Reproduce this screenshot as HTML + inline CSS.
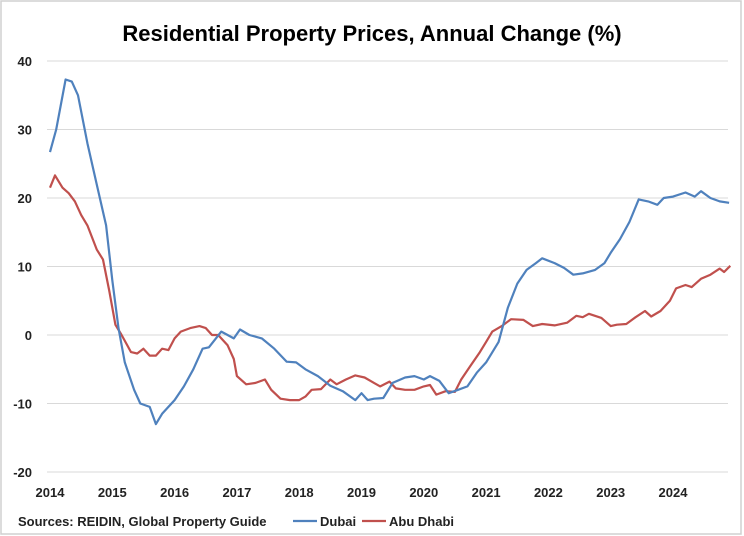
<!DOCTYPE html>
<html><head><meta charset="utf-8"><style>
body{margin:0;background:#fff;font-family:"Liberation Sans",sans-serif}
#wrap{position:relative;width:744px;height:536px;overflow:hidden}
</style></head><body>
<div id="wrap">
<svg id="chart" width="744" height="536"></svg>
</div>
<script>
const yTicks=[40,30,20,10,0,-10,-20];
const xTicks=[2014,2015,2016,2017,2018,2019,2020,2021,2022,2023,2024];
const dubaiT=[2014.0,2014.1,2014.25,2014.35,2014.45,2014.6,2014.75,2014.9,2015.0,2015.1,2015.2,2015.35,2015.45,2015.6,2015.7,2015.8,2015.9,2016.0,2016.15,2016.3,2016.45,2016.55,2016.75,2016.85,2016.95,2017.05,2017.2,2017.4,2017.6,2017.8,2017.95,2018.1,2018.3,2018.5,2018.7,2018.9,2019.0,2019.1,2019.2,2019.35,2019.5,2019.7,2019.85,2020.0,2020.1,2020.25,2020.4,2020.55,2020.7,2020.85,2021.0,2021.2,2021.35,2021.5,2021.65,2021.8,2021.9,2022.1,2022.25,2022.4,2022.55,2022.75,2022.9,2023.0,2023.15,2023.3,2023.45,2023.6,2023.75,2023.85,2024.0,2024.2,2024.35,2024.45,2024.6,2024.75,2024.9];
const dubaiV=[26.7,30,37.3,37,35,28,22,16,8,1,-4,-8,-10,-10.5,-13,-11.5,-10.5,-9.5,-7.5,-5,-2,-1.8,0.5,0,-0.5,0.8,0,-0.5,-2,-3.9,-4,-5,-6,-7.4,-8.2,-9.5,-8.5,-9.5,-9.3,-9.2,-7,-6.2,-6,-6.5,-6,-6.7,-8.5,-8,-7.5,-5.5,-4,-1,4,7.5,9.5,10.5,11.2,10.5,9.8,8.8,9,9.5,10.5,12,14,16.5,19.8,19.5,19,20,20.2,20.8,20.2,21,20,19.5,19.3];
const abuT=[2014.0,2014.08,2014.2,2014.3,2014.4,2014.5,2014.6,2014.75,2014.85,2014.95,2015.05,2015.15,2015.3,2015.4,2015.5,2015.6,2015.7,2015.8,2015.9,2016.0,2016.1,2016.25,2016.4,2016.5,2016.6,2016.7,2016.85,2016.95,2017.0,2017.15,2017.3,2017.45,2017.55,2017.7,2017.85,2018.0,2018.1,2018.2,2018.35,2018.5,2018.6,2018.75,2018.9,2019.05,2019.2,2019.3,2019.45,2019.55,2019.7,2019.85,2020.0,2020.1,2020.2,2020.35,2020.5,2020.6,2020.75,2020.9,2021.0,2021.1,2021.25,2021.4,2021.6,2021.75,2021.9,2022.1,2022.3,2022.45,2022.55,2022.65,2022.85,2023.0,2023.1,2023.25,2023.4,2023.55,2023.65,2023.8,2023.95,2024.05,2024.2,2024.3,2024.45,2024.6,2024.75,2024.82,2024.92];
const abuV=[21.5,23.3,21.5,20.7,19.5,17.5,16,12.5,11,6.5,1.5,0,-2.5,-2.7,-2,-3,-3,-2,-2.2,-0.5,0.5,1,1.3,1,0,0,-1.5,-3.5,-6,-7.2,-7,-6.5,-8,-9.3,-9.5,-9.5,-9,-8,-7.9,-6.5,-7.2,-6.5,-5.9,-6.2,-7,-7.5,-6.8,-7.8,-8,-8,-7.5,-7.3,-8.7,-8.2,-8.3,-6.5,-4.5,-2.5,-1,0.5,1.3,2.3,2.2,1.3,1.6,1.4,1.8,2.8,2.6,3.1,2.5,1.3,1.5,1.6,2.6,3.5,2.7,3.5,5,6.8,7.3,7,8.2,8.8,9.7,9.2,10.1];

const NS='http://www.w3.org/2000/svg';
const svg=document.getElementById('chart');
const x=t=>50+(t-2014)*62.3;
const y=v=>335-v*6.85;
function mk(tag,attrs,parent){const e=document.createElementNS(NS,tag);for(const k in attrs)e.setAttribute(k,attrs[k]);(parent||svg).appendChild(e);return e;}

const frame=mk('rect',{x:1,y:1,width:740,height:533,fill:'none',stroke:'#d0d0d0','stroke-width':1.5});


const title=mk('text',{x:372,y:41,'text-anchor':'middle','font-size':22,'font-weight':'bold',fill:'#000'});
title.textContent='Residential Property Prices, Annual Change (%)';



yTicks.forEach(v=>{
  const g=mk('line',{x1:47,x2:728,y1:y(v),y2:y(v),stroke:'#d9d9d9','stroke-width':1});
  
  
  const t=mk('text',{x:32,y:y(v)+5,'text-anchor':'end','font-size':13,'font-weight':'bold',fill:'#222'});
  t.textContent=v;
  
  
});
xTicks.forEach(v=>{
  const t=mk('text',{x:x(v),y:497,'text-anchor':'middle','font-size':13,'font-weight':'bold',fill:'#222'});
  t.textContent=v;
  
  
});
function line(T,V,color,name){
  const d=T.map((t,i)=>(i?'L':'M')+x(t).toFixed(1)+','+y(V[i]).toFixed(1)).join('');
  const p=mk('path',{d:d,fill:'none',stroke:color,'stroke-width':2.2,'stroke-linejoin':'round'});
  
  
}
line(abuT,abuV,'#c0504d','abu-dhabi-line');
line(dubaiT,dubaiV,'#4f81bd','dubai-line');

const src=mk('text',{x:18,y:526,'font-size':13,'font-weight':'bold',fill:'#222'});
src.textContent='Sources: REIDIN, Global Property Guide';


[['Dubai','#4f81bd',293],['Abu Dhabi','#c0504d',362]].forEach(([n,c,lx])=>{
  const l=mk('line',{x1:lx,x2:lx+24,y1:521,y2:521,stroke:c,'stroke-width':2.2});
  
  
  const t=mk('text',{x:lx+27,y:526,'font-size':13,'font-weight':'bold',fill:'#222'});
  t.textContent=n;
  
  
});
</script>
</body></html>
